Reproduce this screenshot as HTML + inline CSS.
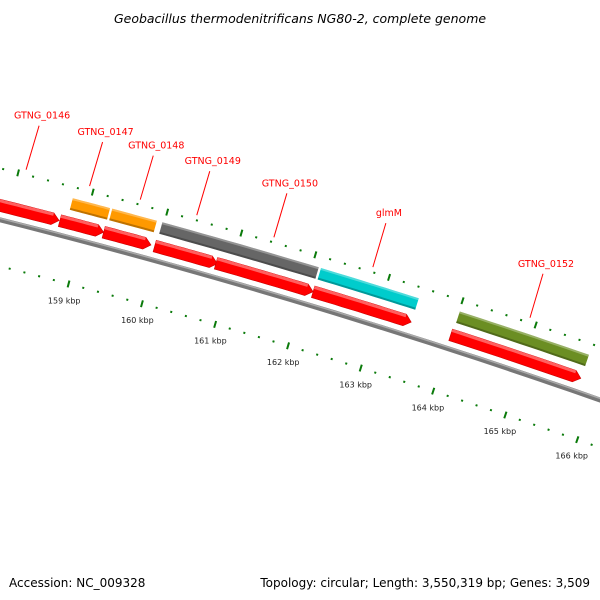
<!DOCTYPE html>
<html><head><meta charset="utf-8">
<style>
html,body{margin:0;padding:0;background:#fff;}
svg{display:block;font-family:"DejaVu Sans","Liberation Sans",sans-serif;}
</style></head>
<body>
<svg id="map" width="600" height="600" viewBox="0 0 600 600">
<text x="300" y="23" text-anchor="middle" font-size="12.5" font-style="italic" fill="#000">Geobacillus thermodenitrificans NG80-2, complete genome</text>
<text x="9" y="587" font-size="12" fill="#000">Accession: NC_009328</text>
<text x="590" y="587" text-anchor="end" font-size="12" fill="#000">Topology: circular; Length: 3,550,319 bp; Genes: 3,509</text>
<g id="layer"></g>
</svg>
<script>
// Data (kbp)
const redStarts = [157.6, 158.68, 159.27, 159.96, 160.79, 162.11, 163.99];
const redEnds   = [158.67, 159.27, 159.91, 160.81, 162.11, 163.45, 165.78];
const colStarts = [158.77, 159.30, 159.975, 162.12, 164.01];
const colEnds   = [159.27, 159.90, 162.09, 163.45, 165.78];
const colColors = ['#ff9900', '#ff9900', '#666666', '#00cccc', '#6b8e23'];
const labelNames = ['GTNG_0146', 'GTNG_0147', 'GTNG_0148', 'GTNG_0149', 'GTNG_0150', 'glmM', 'GTNG_0152'];
const labelAt = [158.09, 158.94, 159.62, 160.38, 161.42, 162.76, 164.9];
const tickLabels = [159, 160, 161, 162, 163, 164, 165, 166];

const NS = 'http://www.w3.org/2000/svg';
const layer = document.getElementById('layer');
const CX = -1666, CY = 6859, R0 = 6800;
const PHI162 = -73.3 * Math.PI / 180, K = 0.01118;
function pt(kbp, v) {
  const p = PHI162 + (kbp - 162) * K, r = R0 + v;
  return [CX + r * Math.cos(p), CY + r * Math.sin(p)];
}
function mk(tag, attrs) {
  const e = document.createElementNS(NS, tag);
  for (const k in attrs) e.setAttribute(k, attrs[k]);
  layer.appendChild(e);
  return e;
}
function band(a, b, v0, v1, arrow) {
  const pts = [], n = 12, head = 0.09;
  const end = arrow ? Math.max(a, b - head) : b;
  for (let i = 0; i <= n; i++) pts.push(pt(a + (end - a) * i / n, v1));
  if (arrow) pts.push(pt(b, (v0 + v1) / 2));
  for (let i = n; i >= 0; i--) pts.push(pt(a + (end - a) * i / n, v0));
  return pts.map(p => p[0].toFixed(1) + ',' + p[1].toFixed(1)).join(' ');
}
function arc(a, b, v) {
  const pts = [];
  for (let i = 0; i <= 40; i++) pts.push(pt(a + (b - a) * i / 40, v));
  return 'M' + pts.map(p => p[0].toFixed(1) + ',' + p[1].toFixed(1)).join(' L');
}

// backbone
let e = mk('path', {d: arc(155, 168, 45), stroke: '#777', 'stroke-width': 5, fill: 'none'});


e = mk('path', {d: arc(155, 168, 46.5), stroke: '#aaa', 'stroke-width': 1.5, fill: 'none'});



// ticks
for (let i = 0; i <= 60; i++) {
  const kb = 156 + i * 0.2;
  const major = Math.abs(kb - Math.round(kb)) < 1e-6;
  for (const v of [0, 95]) {
    const p1 = pt(kb, v - (major ? 3.5 : 1)), p2 = pt(kb, v + (major ? 3.5 : 1));
    e = mk('line', {x1: p1[0], y1: p1[1], x2: p2[0], y2: p2[1], stroke: '#0a7a0a', 'stroke-width': 2});
    
    
  }
}
tickLabels.forEach(kb => {
  const p = pt(kb, -17);
  e = mk('text', {x: p[0].toFixed(1), y: (p[1] + 3).toFixed(1), 'text-anchor': 'middle', 'font-size': 8, fill: '#222'});
  e.textContent = kb + ' kbp';
  
  
});

// red arrows
for (let i = 0; i < redStarts.length; i++) {
  e = mk('polygon', {points: band(redStarts[i], redEnds[i], 53, 65, true), fill: '#ff0000', stroke: '#cc0000', 'stroke-width': 0.6});
  
  
  e = mk('polygon', {points: band(redStarts[i], redEnds[i] - 0.09, 62, 65, false), fill: '#ff6060'});
  
  
}
// colored genes
for (let i = 0; i < colStarts.length; i++) {
  e = mk('polygon', {points: band(colStarts[i], colEnds[i], 72, 84, false), fill: colColors[i]});
  
  
  e = mk('polygon', {points: band(colStarts[i], colEnds[i], 72, 74, false), fill: '#000', 'fill-opacity': 0.25});
  
  
  e = mk('polygon', {points: band(colStarts[i], colEnds[i], 82, 84, false), fill: '#fff', 'fill-opacity': 0.3});
  
  
}
// labels
for (let i = 0; i < labelNames.length; i++) {
  const p1 = pt(labelAt[i], 100);
  const p2 = [p1[0] + 13, p1[1] - 44];
  e = mk('line', {x1: p1[0], y1: p1[1], x2: p2[0], y2: p2[1], stroke: '#ff0000', 'stroke-width': 1});
  
  
  e = mk('text', {x: (p2[0] + 3).toFixed(1), y: (p2[1] - 7).toFixed(1), 'text-anchor': 'middle', 'font-size': 9.5, fill: '#ff0000'});
  e.textContent = labelNames[i];
  
  
}
</script>
</body></html>
